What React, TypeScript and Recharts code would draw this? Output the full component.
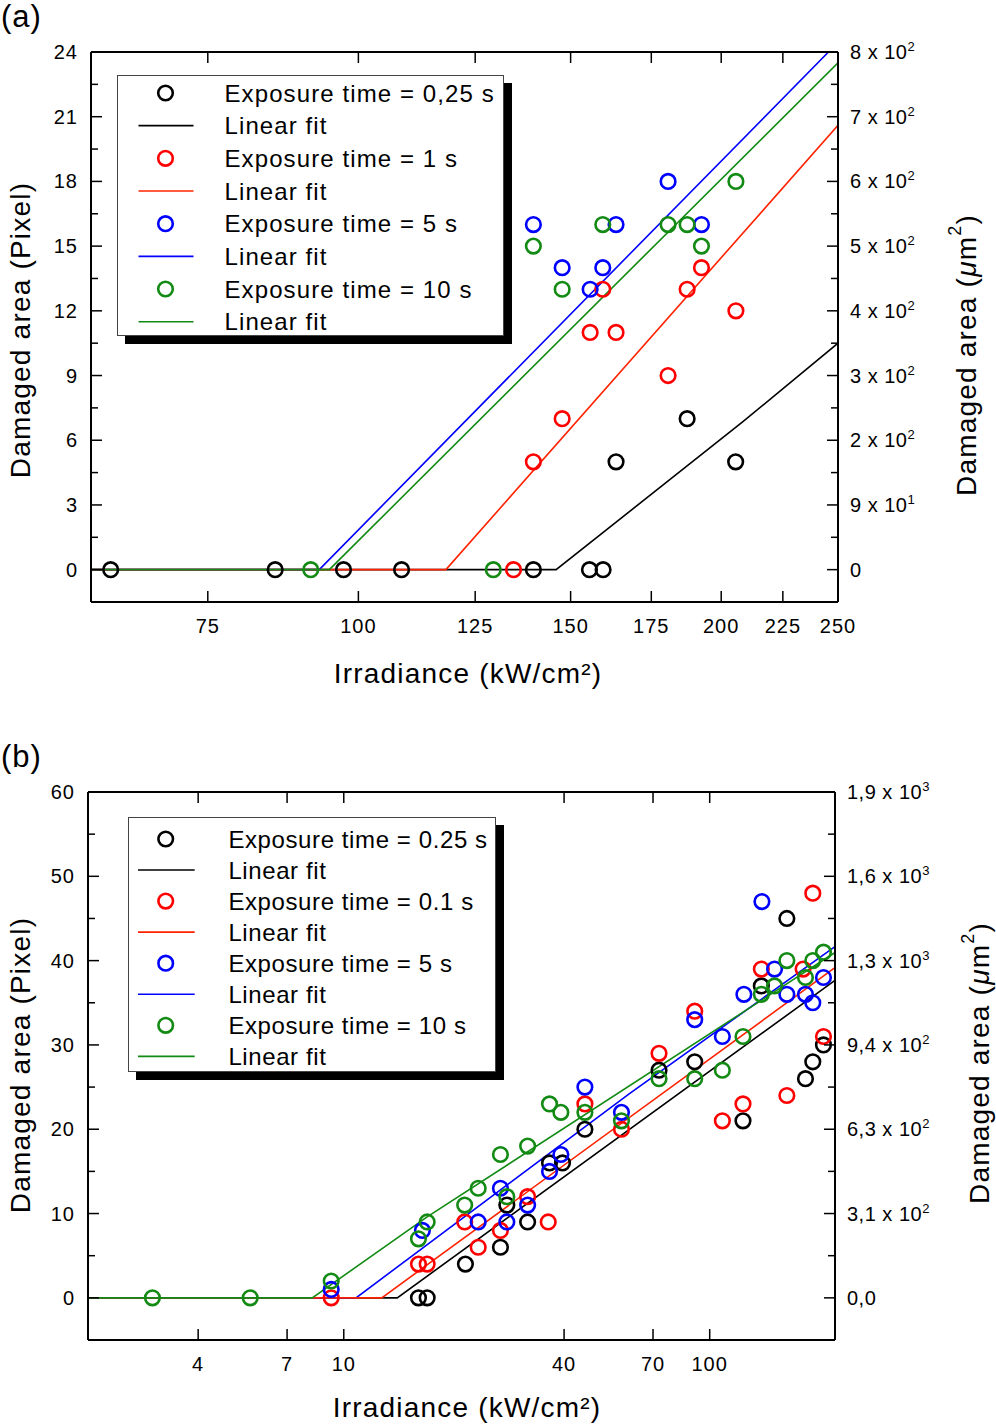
import React from "react";
import { ComposedChart, Line, Scatter, XAxis, YAxis, Legend, Label } from "recharts";

const FONT = "'Liberation Sans', Arial, Helvetica, sans-serif";

// colours of the four exposure times (circles, fit lines)
const COLORS = ["#000000", "#ff0000", "#0000ff", "#138a13"];
const LINE_COLORS = ["#000000", "#ff2200", "#0000ff", "#138a13"];

// ---------- panel (a) ----------
const xTicksA = [75, 100, 125, 150, 175, 200, 225, 250];
const yMajorA = [0, 3, 6, 9, 12, 15, 18, 21, 24];
const yMinorA = [1.5, 4.5, 7.5, 10.5, 13.5, 16.5, 19.5, 22.5];
const rightLabelsA = ["0", "9 x 10^1", "2 x 10^2", "3 x 10^2", "4 x 10^2", "5 x 10^2", "6 x 10^2", "7 x 10^2", "8 x 10^2"];
const namesA = ["Exposure time = 0,25 s", "Exposure time = 1 s", "Exposure time = 5 s", "Exposure time = 10 s"];

const pts025A = [[62.3, 0], [85.3, 0], [97.2, 0], [108.6, 0], [139.7, 0], [155.5, 0], [159.6, 0], [163.6, 5], [187.4, 7], [205.6, 5]];
const pts1A = [[134.5, 0], [139.7, 5], [147.6, 7], [155.7, 11], [159.5, 13], [163.6, 11], [180.7, 9], [187.4, 13], [192.6, 14], [205.7, 12]];
const pts5A = [[139.7, 16], [147.6, 14], [155.7, 13], [159.5, 14], [163.6, 16], [180.7, 18], [192.6, 16]];
const pts10A = [[91.3, 0], [129.4, 0], [139.7, 15], [147.6, 13], [159.5, 16], [180.7, 16], [187.4, 16], [192.6, 15], [205.7, 18]];

const fit025A = [[60, 0], [145.9, 0], [208.6, 6.87], [250, 10.5]];
const fit1A = [[60, 0], [118.2, 0], [250, 20.6]];
const fit5A = [[60, 0], [92.8, 0], [245.5, 24]];
const fit10A = [[60, 0], [94.6, 0], [250, 23.5]];

// ---------- panel (b) ----------
const xTicksB = [4, 7, 10, 40, 70, 100];
const yMajorB = [0, 10, 20, 30, 40, 50, 60];
const yMinorB = [5, 15, 25, 35, 45, 55];
const rightLabelsB = ["0,0", "3,1 x 10^2", "6,3 x 10^2", "9,4 x 10^2", "1,3 x 10^3", "1,6 x 10^3", "1,9 x 10^3"];
const namesB = ["Exposure time = 0.25 s", "Exposure time = 0.1 s", "Exposure time = 5 s", "Exposure time = 10 s"];

const pts025B = [[16.0, 0], [16.9, 0], [21.5, 4], [26.8, 6], [27.9, 11], [31.8, 9], [36.5, 16], [39.6, 16], [45.6, 20], [72.7, 27], [91, 28], [123.3, 21], [138.4, 37], [162.5, 45], [182.7, 26], [191.3, 28], [204.6, 30]];
const pts01B = [[9.24, 0], [16.0, 4], [16.9, 4], [21.4, 9], [23.3, 6], [26.8, 8], [31.8, 12], [36.2, 9], [45.6, 23], [57.4, 20], [72.7, 29], [91, 34], [108.3, 21], [123.3, 23], [138.4, 39], [162.5, 24], [180, 39], [191.3, 48], [204.6, 31]];
const pts5B = [[9.24, 1], [16.4, 8], [23.3, 9], [26.8, 13], [27.9, 9], [31.8, 11], [36.5, 15], [39.2, 17], [45.6, 25], [57.4, 22], [91, 33], [108.3, 31], [124, 36], [138.9, 47], [150.4, 39], [162.5, 36], [182.7, 36], [191.3, 35], [204.6, 38]];
const pts10B = [[3.0, 0], [5.55, 0], [9.24, 2], [16.0, 7], [16.9, 9], [21.4, 11], [23.3, 13], [26.8, 17], [27.9, 12], [31.8, 18], [36.5, 23], [39.2, 22], [45.6, 22], [57.4, 21], [72.7, 26], [91, 26], [108.3, 27], [123.3, 31], [138.4, 36], [150.4, 37], [162.5, 40], [182.7, 38], [191.3, 40], [204.6, 41]];

const fit025B = [[2, 0], [14.0, 0], [219, 37.6]];
const fit01B = [[2, 0], [12.7, 0], [219, 39.1]];
const fit5B = [[2, 0], [10.8, 0], [60.5, 24.25], [219, 41.6]];
const fit10B = [[2, 0], [8.2, 0], [16.9, 9.6], [219, 40.9]];

const toXY = (arr: number[][]) => arr.map(([x, y]) => ({ x, y }));

const tickFont = { fontFamily: FONT, fontSize: 20, fill: "#000", letterSpacing: 1 };
const titleFont = { fontFamily: FONT, fontSize: 28, fill: "#000", letterSpacing: 1.2 };
const axisStyle = { stroke: "#000", strokeWidth: 2 };

const leftTick = (majors: number[]) => (p: any) => {
  const v = p.payload.value;
  const major = majors.includes(v);
  return (
    <g>
      <line x1={p.x} y1={p.y} x2={p.x + (major ? 11 : 7)} y2={p.y} stroke="#000" strokeWidth={1.5} />
      {major && (
        <text x={p.x - 13} y={p.y} textAnchor="end" dominantBaseline="central" style={tickFont}>
          {v}
        </text>
      )}
    </g>
  );
};

const rightTick = (majors: number[], labels: string[]) => (p: any) => {
  const i = majors.indexOf(p.payload.value);
  const [base, exp] = i >= 0 ? labels[i].split("^") : ["", ""];
  return (
    <g>
      <line x1={p.x} y1={p.y} x2={p.x - (i >= 0 ? 11 : 7)} y2={p.y} stroke="#000" strokeWidth={1.5} />
      {i >= 0 && (
        <text x={p.x + 12} y={p.y + 7} style={{ ...tickFont, letterSpacing: 0.5 }}>
          {base}
          {exp && (
            <tspan dy={-8} fontSize={13}>
              {exp}
            </tspan>
          )}
        </text>
      )}
    </g>
  );
};

const bottomTick = (p: any) => (
  <g>
    <line x1={p.x} y1={p.y} x2={p.x} y2={p.y - 11} stroke="#000" strokeWidth={1.5} />
    <text x={p.x} y={p.y + 24} textAnchor="middle" dominantBaseline="central" style={tickFont}>
      {p.payload.value}
    </text>
  </g>
);

const topTick = (p: any) => <line x1={p.x} y1={p.y} x2={p.x} y2={p.y + 11} stroke="#000" strokeWidth={1.5} />;

const circleShape = (color: string) => (p: any) =>
  <circle cx={p.cx} cy={p.cy} r={7.3} fill="none" stroke={color} strokeWidth={2.6} />;

function LegendBox({ names, lg }: { names: string[]; lg: any }) {
  const rows: { kind: string; color: string; text: string }[] = [];
  names.forEach((n, i) => {
    rows.push({ kind: "point", color: COLORS[i], text: n });
    rows.push({ kind: "line", color: LINE_COLORS[i], text: "Linear fit" });
  });
  return (
    <div
      style={{
        width: lg.w,
        height: lg.h,
        boxSizing: "border-box",
        border: "1px solid #444",
        background: "#fff",
        boxShadow: `${lg.shadow}px ${lg.shadow}px 0 #000`,
      }}
    >
      <svg width={lg.w - 2} height={lg.h - 2} style={{ display: "block" }}>
        {rows.map((r, i) => {
          const y = lg.row0 + i * lg.step - 1;
          return (
            <g key={i}>
              {r.kind === "point" ? (
                <circle cx={lg.symX} cy={y} r={7.3} fill="none" stroke={r.color} strokeWidth={2.6} />
              ) : (
                <line x1={lg.lineX1} x2={lg.lineX2} y1={y} y2={y} stroke={r.color} strokeWidth={1.6} />
              )}
              <text
                x={lg.textX}
                y={y}
                dominantBaseline="central"
                style={{ fontFamily: FONT, fontSize: 24, fill: "#000", letterSpacing: lg.ls }}
              >
                {r.text}
              </text>
            </g>
          );
        })}
      </svg>
    </div>
  );
}

function Panel({ cfg }: { cfg: any }) {
  const lineOrder = [0, 2, 1, 3];
  return (
    <div style={{ position: "absolute", left: 0, top: cfg.top }}>
      <ComposedChart width={996} height={cfg.height} margin={cfg.margin}>
        <XAxis
          xAxisId="b"
          dataKey="x"
          type="number"
          scale="log"
          domain={cfg.xDomain}
          allowDataOverflow
          ticks={cfg.xTicks}
          interval={0}
          tickSize={0}
          tickMargin={0}
          tickLine={false}
          axisLine={axisStyle}
          height={cfg.bottomH}
          tick={bottomTick}
        >
          <Label
            content={() => (
              <text x={cfg.xTitle[0]} y={cfg.xTitle[1]} textAnchor="middle" style={titleFont}>
                Irradiance (kW/cm²)
              </text>
            )}
          />
        </XAxis>
        <XAxis
          xAxisId="t"
          orientation="top"
          dataKey="x"
          type="number"
          scale="log"
          domain={cfg.xDomain}
          allowDataOverflow
          ticks={cfg.xTicks}
          interval={0}
          tickSize={0}
          tickMargin={0}
          tickLine={false}
          axisLine={axisStyle}
          height={1}
          tick={topTick}
        />
        <YAxis
          yAxisId="l"
          dataKey="y"
          type="number"
          domain={cfg.yDomain}
          allowDataOverflow
          ticks={[...cfg.yMajor, ...cfg.yMinor]}
          interval={0}
          tickSize={0}
          tickMargin={0}
          tickLine={false}
          axisLine={axisStyle}
          width={cfg.leftW}
          tick={leftTick(cfg.yMajor)}
        >
          <Label
            content={() => {
              const [x, y] = cfg.lTitle;
              return (
                <text
                  x={x}
                  y={y}
                  transform={`rotate(-90 ${x} ${y})`}
                  textAnchor="middle"
                  dominantBaseline="central"
                  style={titleFont}
                >
                  Damaged area (Pixel)
                </text>
              );
            }}
          />
        </YAxis>
        <YAxis
          yAxisId="r"
          orientation="right"
          type="number"
          domain={cfg.yDomain}
          allowDataOverflow
          ticks={[...cfg.yMajor, ...cfg.yMinor]}
          interval={0}
          tickSize={0}
          tickMargin={0}
          tickLine={false}
          axisLine={axisStyle}
          width={cfg.rightW}
          tick={rightTick(cfg.yMajor, cfg.rightLabels)}
        >
          <Label
            content={() => {
              const [x, y] = cfg.rTitle;
              return (
                <text
                  x={x}
                  y={y}
                  transform={`rotate(-90 ${x} ${y})`}
                  textAnchor="middle"
                  dominantBaseline="central"
                  style={titleFont}
                >
                  Damaged area (<tspan fontStyle="italic">μ</tspan>m
                  <tspan dy={-11} fontSize={18}>
                    2
                  </tspan>
                  <tspan dy={11}>)</tspan>
                </text>
              );
            }}
          />
        </YAxis>
        {lineOrder.map((i) => (
          <Line
            key={"fit" + i}
            xAxisId="b"
            yAxisId="l"
            data={toXY(cfg.fits[i])}
            dataKey="y"
            type="linear"
            stroke={LINE_COLORS[i]}
            strokeWidth={1.6}
            dot={false}
            activeDot={false}
            isAnimationActive={false}
          />
        ))}
        {cfg.points.map((pts: number[][], i: number) => (
          <Scatter
            key={"pts" + i}
            xAxisId="b"
            yAxisId="l"
            data={toXY(pts)}
            shape={circleShape(COLORS[i])}
            isAnimationActive={false}
          />
        ))}
        <Legend
          layout="vertical"
          align="center"
          verticalAlign="middle"
          content={() => <LegendBox names={cfg.names} lg={cfg.legend} />}
          wrapperStyle={{ left: cfg.legend.left, top: cfg.legend.top, width: "auto", height: "auto" }}
        />
      </ComposedChart>
    </div>
  );
}

const panelA = {
  top: 0,
  height: 712,
  margin: { top: 51, right: 0, bottom: 0, left: 0 },
  leftW: 91,
  rightW: 158,
  bottomH: 110,
  xDomain: [60, 250],
  yDomain: [-1.5, 24],
  xTicks: xTicksA,
  yMajor: yMajorA,
  yMinor: yMinorA,
  rightLabels: rightLabelsA,
  names: namesA,
  points: [pts025A, pts1A, pts5A, pts10A],
  fits: [fit025A, fit1A, fit5A, fit10A],
  xTitle: [468, 683],
  lTitle: [20, 330],
  rTitle: [966, 355],
  legend: { left: 117, top: 75, w: 387, h: 261, row0: 18, step: 32.67, symX: 47.5, lineX1: 20.5, lineX2: 75.5, textX: 106.5, ls: 1.1, shadow: 8 },
};

const panelB = {
  top: 712,
  height: 714,
  margin: { top: 79, right: 0, bottom: 0, left: 0 },
  leftW: 88,
  rightW: 161,
  bottomH: 86,
  xDomain: [2, 220],
  yDomain: [-5, 60],
  xTicks: xTicksB,
  yMajor: yMajorB,
  yMinor: yMinorB,
  rightLabels: rightLabelsB,
  names: namesB,
  points: [pts025B, pts01B, pts5B, pts10B],
  fits: [fit025B, fit01B, fit5B, fit10B],
  xTitle: [467, 705],
  lTitle: [20, 353],
  rTitle: [979, 351],
  legend: { left: 128, top: 105, w: 368, h: 255, row0: 22, step: 31.05, symX: 36.7, lineX1: 9, lineX2: 65.7, textX: 99.4, ls: 0.6, shadow: 8 },
};

export default function App() {
  const tag = { position: "absolute" as const, left: 1, fontFamily: FONT, fontSize: 31, lineHeight: "31px", letterSpacing: 1 };
  return (
    <div style={{ position: "absolute", left: 0, top: 0, width: 996, height: 1426, overflow: "hidden", background: "#fff" }}>
      <Panel cfg={panelA} />
      <Panel cfg={panelB} />
      <div style={{ ...tag, top: 1 }}>(a)</div>
      <div style={{ ...tag, top: 741 }}>(b)</div>
    </div>
  );
}
